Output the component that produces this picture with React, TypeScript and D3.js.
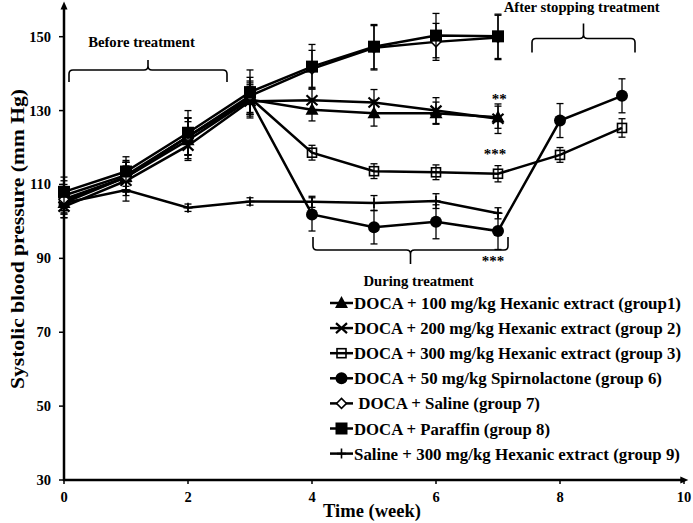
import React from "react";
import * as d3 from "d3";

const W = 693;
const H = 523;

const weeksAll = [0, 1, 2, 3, 4, 5, 6, 7, 8, 9];
const weeksTreat = [0, 1, 2, 3, 4, 5, 6, 7];

const g1Values = [105, 112, 122, 133, 130.2, 129.3, 129.3, 128.2];
const g1Errors = [3, 4, 5, 4, 3, 3.5, 3, 3];
const g2Values = [104, 111, 120.5, 132.5, 132.8, 132.2, 130, 127.8];
const g2Errors = [3, 4, 4, 4, 3, 3.5, 3.5, 4];
const g3Values = [105.5, 112, 123, 133.5, 118.6, 113.6, 113.3, 112.9, 118, 125.3];
const g3Errors = [3, 4, 5, 4, 2, 2, 2, 2.2, 2, 2.5];
const g6Values = [107, 112.5, 123, 133, 101.9, 98.4, 99.9, 97.4, 127.3, 134];
const g6Errors = [4, 4, 5, 5, 4.5, 4.5, 4.6, 5, 4.6, 4.6];
const g7Values = [106, 112, 123, 134, 141.3, 147, 148.6, 149.8];
const g7Errors = [4, 4, 5, 5, 5, 6, 5, 6];
const g8Values = [108, 113.5, 124, 135, 141.9, 147.3, 150.3, 150.1];
const g8Errors = [4, 4, 6, 6, 6, 6, 6, 6];
const g9Values = [105, 108.5, 103.7, 105.4, 105.3, 105, 105.5, 102.2];
const g9Errors = [4, 3, 1, 1, 1.5, 2, 2, 1.5];

const legendLabels = [
  "DOCA + 100 mg/kg Hexanic extract (group1)",
  "DOCA + 200 mg/kg Hexanic extract (group 2)",
  "DOCA + 300 mg/kg Hexanic extract (group 3)",
  "DOCA + 50 mg/kg Spirnolactone (group 6)",
  " DOCA + Saline (group 7)",
  "DOCA + Paraffin (group 8)",
  "Saline + 300 mg/kg Hexanic extract (group 9)",
];
const markerKinds = ["triangle", "cross", "openSquare", "circle", "diamond", "square", "plus"];

const yTicks = [30, 50, 70, 90, 110, 130, 150];
const xTicks = [0, 2, 4, 6, 8, 10];

const annotations = [
  { text: "Before treatment", week: 1.25, value: 147.3 },
  { text: "After stopping treatment", week: 8.35, value: 156.6 },
  { text: "During treatment", week: 5.72, value: 82.6 },
];
const stars = [
  { text: "**", week: 7.02, value: 131.8 },
  { text: "***", week: 6.95, value: 116.9 },
  { text: "***", week: 6.92, value: 87.9 },
];

// layout: rendered text lengths of legend rows (to match the reference typesetting)
const legendTextLengths = [327, 327, 327, 308, 186, 196, 326];

const FONT = "'Liberation Serif', 'Times New Roman', serif";

const series = [
  { kind: "plus", weeks: weeksTreat, values: g9Values, errors: g9Errors },
  { kind: "circle", weeks: weeksAll, values: g6Values, errors: g6Errors },
  { kind: "openSquare", weeks: weeksAll, values: g3Values, errors: g3Errors },
  { kind: "triangle", weeks: weeksTreat, values: g1Values, errors: g1Errors },
  { kind: "cross", weeks: weeksTreat, values: g2Values, errors: g2Errors },
  { kind: "diamond", weeks: weeksTreat, values: g7Values, errors: g7Errors },
  { kind: "square", weeks: weeksTreat, values: g8Values, errors: g8Errors },
];

function Marker({ kind, x, y }: { kind: string; x: number; y: number }) {
  switch (kind) {
    case "triangle":
      return <path d={`M${x},${y - 7}L${x + 6.5},${y + 5}L${x - 6.5},${y + 5}Z`} fill="#000" />;
    case "cross":
      return (
        <path
          d={`M${x - 5.5},${y - 5}L${x + 5.5},${y + 5}M${x - 5.5},${y + 5}L${x + 5.5},${y - 5}`}
          stroke="#000"
          strokeWidth={2.2}
        />
      );
    case "openSquare":
      return <rect x={x - 4.5} y={y - 4.5} width={9} height={9} fill="none" stroke="#000" strokeWidth={1.6} />;
    case "circle":
      return <circle cx={x} cy={y} r={6} fill="#000" />;
    case "diamond":
      return (
        <path
          d={`M${x},${y - 5}L${x + 5},${y}L${x},${y + 5}L${x - 5},${y}Z`}
          fill="#fff"
          stroke="#000"
          strokeWidth={1.5}
        />
      );
    case "square":
      return <rect x={x - 6} y={y - 6} width={12} height={12} fill="#000" />;
    case "plus":
      return (
        <path d={`M${x - 4.5},${y}L${x + 4.5},${y}M${x},${y - 5}L${x},${y + 5}`} stroke="#000" strokeWidth={1.6} />
      );
    default:
      return null;
  }
}

function Brace({ x1, x2, y, depth, tip, up }: { x1: number; x2: number; y: number; depth: number; tip: number; up: boolean }) {
  const s = up ? 1 : -1;
  const mid = (x1 + x2) / 2;
  const r = 4;
  const d = [
    `M${x1},${y + s * depth}`,
    `L${x1},${y + s * r}`,
    `Q${x1},${y} ${x1 + r},${y}`,
    `L${mid - r},${y}`,
    `Q${mid},${y} ${mid},${y - s * r}`,
    `L${mid},${y - s * tip}`,
    `M${mid},${y - s * r}`,
    `Q${mid},${y} ${mid + r},${y}`,
    `L${x2 - r},${y}`,
    `Q${x2},${y} ${x2},${y + s * r}`,
    `L${x2},${y + s * depth}`,
  ].join(" ");
  return <path d={d} fill="none" stroke="#000" strokeWidth={1.6} />;
}

export default function App() {
  const x = d3.scaleLinear().domain([0, 10]).range([64, 684]);
  const y = d3.scaleLinear().domain([30, 150]).range([480, 36.7]);
  const line = d3
    .line<[number, number]>()
    .x((d) => x(d[0]))
    .y((d) => y(d[1]));

  const axisTop = y(159.5);
  const axisRight = x(10.07);

  return (
    <svg
      width={W}
      height={H}
      style={{ position: "absolute", left: 0, top: 0, background: "#fff" }}
      fontFamily={FONT}
      fontWeight="bold"
    >
      <rect x={0} y={0} width={W} height={H} fill="#fff" />
      {/* axes */}
      <line x1={x(0)} x2={x(0)} y1={y(30) + 1} y2={axisTop + 6} stroke="#000" strokeWidth={2.5} />
      <path d={`M${x(0)},${axisTop}L${x(0) + 3.5},${axisTop + 8}L${x(0) - 3.5},${axisTop + 8}Z`} fill="#000" />
      <line x1={x(0) - 1} x2={axisRight - 6} y1={y(30)} y2={y(30)} stroke="#000" strokeWidth={2.5} />
      <path d={`M${axisRight},${y(30)}L${axisRight - 8},${y(30) - 3.5}L${axisRight - 8},${y(30) + 3.5}Z`} fill="#000" />
      {yTicks.map((t) => (
        <g key={"yt" + t}>
          <line x1={x(0) - 5} x2={x(0)} y1={y(t)} y2={y(t)} stroke="#000" strokeWidth={1.5} />
          <text x={x(0) - 13} y={y(t) + 5} textAnchor="end" fontSize={14.5}>
            {t}
          </text>
        </g>
      ))}
      {xTicks.map((t) => (
        <g key={"xt" + t}>
          <line x1={x(t)} x2={x(t)} y1={y(30)} y2={y(30) + 4} stroke="#000" strokeWidth={1.5} />
          <text x={x(t)} y={y(30) + 21.5} textAnchor="middle" fontSize={14.5}>
            {t}
          </text>
        </g>
      ))}
      <text x={372} y={517} textAnchor="middle" fontSize={18.5}>
        Time (week)
      </text>
      <text
        transform={`translate(24,239) rotate(-90)`}
        textAnchor="middle"
        fontSize={19}
        textLength={300}
        lengthAdjust="spacingAndGlyphs"
      >
        Systolic blood pressure (mm Hg)
      </text>

      {/* braces and annotations */}
      <Brace x1={69} x2={227} y={70} depth={12} tip={10} up={true} />
      <Brace x1={532} x2={635} y={38.5} depth={14} tip={15} up={true} />
      <Brace x1={313} x2={508} y={250} depth={13} tip={14} up={false} />
      {annotations.map((a, i) => (
        <text key={"an" + i} x={x(a.week)} y={y(a.value)} textAnchor="middle" fontSize={14.7}>
          {a.text}
        </text>
      ))}
      {stars.map((s, i) => (
        <text key={"st" + i} x={x(s.week)} y={y(s.value)} textAnchor="middle" fontSize={15}>
          {s.text}
        </text>
      ))}

      {/* series */}
      {series.map((s, si) => {
        const pts = s.weeks.map((w, i) => [w, s.values[i]] as [number, number]);
        return (
          <g key={"s" + si}>
            <path d={line(pts) || ""} fill="none" stroke="#000" strokeWidth={2.5} />
            {pts.map((p, i) => {
              const px = x(p[0]);
              const top = y(p[1] + s.errors[i]);
              const bot = y(p[1] - s.errors[i]);
              return (
                <g key={"e" + i} stroke="#000" strokeWidth={1.3}>
                  <line x1={px} x2={px} y1={top} y2={bot} />
                  <line x1={px - 3.5} x2={px + 3.5} y1={top} y2={top} />
                  <line x1={px - 3.5} x2={px + 3.5} y1={bot} y2={bot} />
                </g>
              );
            })}
            {pts.map((p, i) => (
              <Marker key={"m" + i} kind={s.kind} x={x(p[0])} y={y(p[1])} />
            ))}
          </g>
        );
      })}

      {/* legend */}
      {legendLabels.map((label, i) => {
        const ly = 303 + i * 25.1;
        return (
          <g key={"lg" + i}>
            <line x1={330} x2={353} y1={ly} y2={ly} stroke="#000" strokeWidth={2.5} />
            <Marker kind={markerKinds[i]} x={341.5} y={ly} />
            <text
              x={354}
              y={ly + 6}
              fontSize={17}
              textLength={legendTextLengths[i]}
              lengthAdjust="spacingAndGlyphs"
              style={{ whiteSpace: "pre" }}
            >
              {label}
            </text>
          </g>
        );
      })}
    </svg>
  );
}
